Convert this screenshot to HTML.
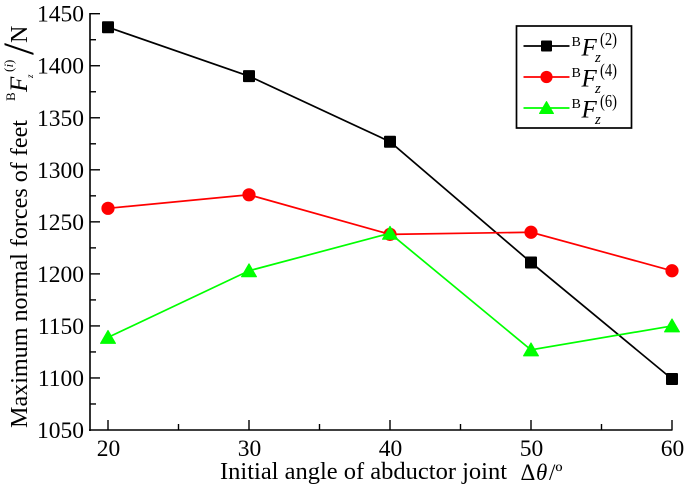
<!DOCTYPE html>
<html>
<head>
<meta charset="utf-8">
<style>
html,body{margin:0;padding:0;background:#fff;}
svg{display:block;font-family:"Liberation Serif",serif;}
</style>
</head>
<body>
<svg id="chart" width="685" height="488" viewBox="0 0 685 488" xmlns="http://www.w3.org/2000/svg"></svg>
<script>
const categories = [20, 30, 40, 50, 60];
const seriesF2 = [1437, 1390, 1327, 1211, 1099];
const seriesF4 = [1263, 1276, 1238, 1240, 1203];
const seriesF6 = [1139, 1203, 1239, 1127, 1150];
const yTickLabels = [1050, 1100, 1150, 1200, 1250, 1300, 1350, 1400, 1450];
const yMinorTicks = [1075, 1125, 1175, 1225, 1275, 1325, 1375, 1425];
const xMinorTicks = [25, 35, 45, 55];

const svg = document.getElementById('chart');
const NS = 'http://www.w3.org/2000/svg';
const xScale = v => 108 + (v - 20) * (672 - 108) / 40;
const yScale = v => 430 - (v - 1050) * (430 - 13.7) / 400;

function make(tag, attrs, text) {
  const el = document.createElementNS(NS, tag);
  for (const k in attrs) el.setAttribute(k, attrs[k]);
  if (text !== undefined) el.textContent = text;
  svg.appendChild(el);
  return el;
}

let el;
el = make('line', {x1: 90, y1: 13, x2: 90, y2: 431, stroke: '#000', 'stroke-width': 1.6});


el = make('line', {x1: 89, y1: 430, x2: 672.5, y2: 430, stroke: '#000', 'stroke-width': 1.6});



yTickLabels.forEach(v => {
  const y = yScale(v);
  if (v !== 1050) {
    el = make('line', {x1: 90, y1: y, x2: 100, y2: y, stroke: '#000', 'stroke-width': 1.4});
    
    
  }
  el = make('text', {x: 84, y: y + 8, 'text-anchor': 'end', 'font-size': 23.5}, String(v));
  
  
});
yMinorTicks.forEach(v => {
  const y = yScale(v);
  el = make('line', {x1: 90, y1: y, x2: 96, y2: y, stroke: '#000', 'stroke-width': 1.4});
  
  
});
categories.forEach(v => {
  const x = xScale(v);
  el = make('line', {x1: x, y1: 430, x2: x, y2: 420, stroke: '#000', 'stroke-width': 1.4});
  
  
  el = make('text', {x: x + 0.5, y: 456, 'text-anchor': 'middle', 'font-size': 23.5}, String(v));
  
  
});
xMinorTicks.forEach(v => {
  const x = xScale(v);
  el = make('line', {x1: x, y1: 430, x2: x, y2: 424, stroke: '#000', 'stroke-width': 1.4});
  
  
});

function marker(kind, x, y, color, s) {
  if (kind === 'square') {
    return make('rect', {x: x - s, y: y - s, width: 2 * s, height: 2 * s, rx: 1, fill: color});
  }
  if (kind === 'circle') {
    return make('circle', {cx: x, cy: y, r: s + 0.6, fill: color});
  }
  return make('polygon', {points: (x - s - 1.5) + ',' + (y + s) + ' ' + (x + s + 1.5) + ',' + (y + s) + ' ' + x + ',' + (y - s - 1), fill: color, stroke: color, 'stroke-width': 1, 'stroke-linejoin': 'round'});
}

function drawSeries(values, color, kind, name) {
  const pts = values.map((v, i) => xScale(categories[i]) + ',' + yScale(v)).join(' ');
  const line = make('polyline', {points: pts, fill: 'none', stroke: color, 'stroke-width': 1.7});
  
  
  values.forEach((v, i) => {
    const m = marker(kind, xScale(categories[i]), yScale(v), color, 6);
    
    
  });
}
drawSeries(seriesF2, '#000000', 'square', 'series-f2');
drawSeries(seriesF4, '#ff0000', 'circle', 'series-f4');
drawSeries(seriesF6, '#00ff00', 'triangle', 'series-f6');

// Legend
el = make('rect', {x: 516.5, y: 26, width: 115, height: 102, fill: '#fff', stroke: '#000', 'stroke-width': 1.7});


const legendSeries = [
  {label: '(2)', color: '#000000', kind: 'square', y: 46, name: 'legend-entry-f2'},
  {label: '(4)', color: '#ff0000', kind: 'circle', y: 77, name: 'legend-entry-f4'},
  {label: '(6)', color: '#00ff00', kind: 'triangle', y: 108, name: 'legend-entry-f6'}
];
legendSeries.forEach(e => {
  el = make('line', {x1: 523.5, y1: e.y, x2: 569.5, y2: e.y, stroke: e.color, 'stroke-width': 1.7});
  
  
  el = marker(e.kind, 546.5, e.y, e.color, 5.5);
  
  
  el = make('text', {x: 571.5, y: e.y, 'font-size': 14}, 'B');
  
  
  el = make('text', {x: 581.5, y: e.y + 9.5, 'font-size': 25, 'font-style': 'italic'}, 'F');
  
  
  el = make('text', {x: 595, y: e.y + 16, 'font-size': 15, 'font-style': 'italic'}, 'z');
  
  
  el = make('text', {x: 600, y: e.y - 1, 'font-size': 18, textLength: 17, lengthAdjust: 'spacingAndGlyphs'}, e.label);
  
  
});

// X axis title
el = make('text', {x: 220, y: 479, 'font-size': 24, textLength: 287, lengthAdjust: 'spacingAndGlyphs'}, 'Initial angle of abductor joint');


el = make('text', {x: 520.5, y: 480, 'font-size': 23}, 'Δ');


el = make('text', {x: 536, y: 480, 'font-size': 23, 'font-style': 'italic'}, 'θ');


el = make('text', {x: 549, y: 480, 'font-size': 23}, '/º');



// Y axis title
el = make('text', {transform: 'translate(27,428) rotate(-90)', 'font-size': 24, textLength: 308, lengthAdjust: 'spacingAndGlyphs'}, 'Maximum normal forces of feet');


el = make('text', {transform: 'translate(15,101) rotate(-90)', 'font-size': 13}, 'B');


el = make('text', {transform: 'translate(27,92) rotate(-90)', 'font-size': 25, 'font-style': 'italic'}, 'F');


el = make('text', {transform: 'translate(33,78) rotate(-90)', 'font-size': 9, 'font-style': 'italic'}, 'z');


el = make('text', {transform: 'translate(13,72) rotate(-90)', 'font-size': 13}, '(');


el = make('text', {transform: 'translate(13,67.5) rotate(-90)', 'font-size': 13, 'font-style': 'italic'}, 'i');


el = make('text', {transform: 'translate(13,64) rotate(-90)', 'font-size': 13}, ')');


el = make('text', {transform: 'translate(33,55) rotate(-90)', 'font-size': 43}, '/');


el = make('text', {transform: 'translate(27,43) rotate(-90)', 'font-size': 24}, 'N');


</script>
</body>
</html>
